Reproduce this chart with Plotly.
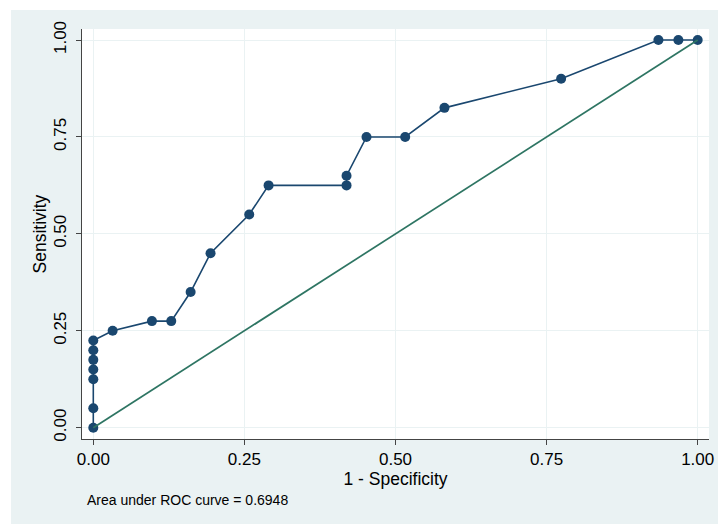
import plotly.graph_objects as go

# ROC curve points (1 - specificity, sensitivity)
fpr = [0.0, 0.0, 0.0, 0.0, 0.0, 0.0, 0.0, 0.032, 0.097, 0.129, 0.161, 0.194,
       0.258, 0.290, 0.419, 0.419, 0.452, 0.516, 0.581, 0.774, 0.935, 0.968, 1.0]
tpr = [0.0, 0.05, 0.125, 0.15, 0.175, 0.2, 0.225, 0.25, 0.275, 0.275, 0.35, 0.45,
       0.55, 0.625, 0.625, 0.65, 0.75, 0.75, 0.825, 0.9, 1.0, 1.0, 1.0]
ref_x = [0.0, 1.0]
ref_y = [0.0, 1.0]
tick_vals = [0.0, 0.25, 0.5, 0.75, 1.0]
tick_text = ["0.00", "0.25", "0.50", "0.75", "1.00"]
auc_label = "Area under ROC curve = 0.6948"

BG = "#EAF2F3"
NAVY = "#1A476F"
GREEN = "#2E7563"
FONT = "Liberation Sans, Arial, sans-serif"

W, H = 718, 524
ML, MR, MT, MB = 82, 9, 29, 85
PW, PH = W - ML - MR, H - MT - MB

fig = go.Figure()
fig.add_trace(go.Scatter(
    x=fpr, y=tpr, mode="lines+markers",
    line=dict(color=NAVY, width=1.6),
    marker=dict(color=NAVY, size=10),
    showlegend=False, hoverinfo="x+y"))
fig.add_trace(go.Scatter(
    x=ref_x, y=ref_y, mode="lines",
    line=dict(color=GREEN, width=1.7),
    showlegend=False, hoverinfo="skip"))

def px_to_paper_x(px):
    return (px - ML) / PW

def px_to_paper_y(py):
    return (H - MB - py) / PH

fig.add_shape(type="rect", xref="paper", yref="paper",
              x0=px_to_paper_x(11), x1=px_to_paper_x(W + 2),
              y0=px_to_paper_y(H + 2), y1=px_to_paper_y(10),
              fillcolor=BG, line=dict(width=0), layer="below")
fig.add_shape(type="rect", xref="paper", yref="paper",
              x0=0, x1=1, y0=0, y1=1,
              fillcolor="white", line=dict(width=0), layer="below")

fig.add_annotation(text=auc_label, xref="paper", yref="paper",
                   x=px_to_paper_x(85), y=px_to_paper_y(500),
                   xanchor="left", yanchor="middle", showarrow=False,
                   font=dict(family=FONT, size=14, color="black"))

axis_common = dict(
    tickvals=tick_vals, ticktext=tick_text,
    showgrid=True, gridcolor=BG, gridwidth=1,
    zeroline=False, showline=True, linecolor="#444444", linewidth=1,
    ticks="outside", ticklen=5, tickcolor="#444444", tickwidth=1,
    tickfont=dict(family=FONT, size=17, color="black"),
    fixedrange=True, automargin=False,
)

fig.update_layout(
    width=W, height=H,
    margin=dict(l=ML, r=MR, t=MT, b=MB, autoexpand=False),
    paper_bgcolor="white", plot_bgcolor="white",
    font=dict(family=FONT, color="black"),
    xaxis=dict(range=[-0.0187, 1.0187],
               title=dict(text="1 - Specificity", standoff=0,
                          font=dict(family=FONT, size=17.5)),
               **axis_common),
    yaxis=dict(range=[-0.0291, 1.0284], tickangle=-90, ticklabelstandoff=3,
               title=dict(text="Sensitivity", standoff=0,
                          font=dict(family=FONT, size=17.5)),
               **axis_common),
)

fig.write_html("out.html",
               config={"displayModeBar": False},
               post_script="document.body.style.margin='0';document.body.style.overflow='hidden';")
